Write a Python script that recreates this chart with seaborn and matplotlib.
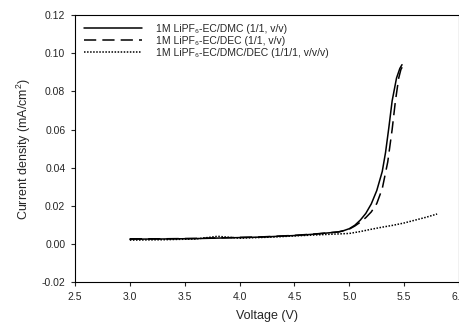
import numpy as np
import pandas as pd
import matplotlib
matplotlib.use('Agg')
import matplotlib.pyplot as plt
import seaborn as sns

# Linear sweep voltammetry
dmc_voltage = [3.0, 3.3, 3.6, 3.9, 4.2, 4.5, 4.7, 4.9, 4.95, 5.0, 5.05, 5.1, 5.15, 5.2, 5.25, 5.3, 5.33, 5.36, 5.39, 5.43, 5.46, 5.48]
dmc_current = [0.0025, 0.0026, 0.0028, 0.0032, 0.0036, 0.0044, 0.0052, 0.0063, 0.0070, 0.0080, 0.0098, 0.0125, 0.0160, 0.0210, 0.0280, 0.0380, 0.0480, 0.0610, 0.0750, 0.0870, 0.0920, 0.0940]

dec_voltage = [3.0, 3.3, 3.6, 3.9, 4.2, 4.5, 4.7, 4.9, 4.95, 5.0, 5.05, 5.1, 5.15, 5.2, 5.25, 5.3, 5.35, 5.39, 5.42, 5.45, 5.47, 5.49]
dec_current = [0.0027, 0.0027, 0.0029, 0.0033, 0.0037, 0.0045, 0.0053, 0.0063, 0.0069, 0.0078, 0.0094, 0.0114, 0.0138, 0.0168, 0.0212, 0.0290, 0.0430, 0.0600, 0.0750, 0.0870, 0.0915, 0.0935]

mix_voltage = [3.0, 3.3, 3.6, 3.8, 4.0, 4.3, 4.5, 4.8, 5.0, 5.1, 5.2, 5.3, 5.4, 5.5, 5.6, 5.7, 5.8]
mix_current = [0.0020, 0.0022, 0.0026, 0.0040, 0.0030, 0.0036, 0.0042, 0.0050, 0.0055, 0.0065, 0.0077, 0.0088, 0.0098, 0.0110, 0.0125, 0.0140, 0.0157]

labels = [
    '1M LiPF₆-EC/DMC (1/1, v/v)',
    '1M LiPF₆-EC/DEC (1/1, v/v)',
    '1M LiPF₆-EC/DMC/DEC (1/1/1, v/v/v)',
]

x_ticks = [2.5, 3.0, 3.5, 4.0, 4.5, 5.0, 5.5, 6.0]
y_ticks = [-0.02, 0.00, 0.02, 0.04, 0.06, 0.08, 0.10, 0.12]

################################################################################

sns.set_style('ticks')
plt.rcParams['font.family'] = ['Liberation Sans', 'DejaVu Sans']
plt.rcParams['mathtext.fontset'] = 'custom'
plt.rcParams['mathtext.rm'] = 'Liberation Sans'
plt.rcParams['mathtext.it'] = 'Liberation Sans:italic'

frames = []
for label, v, c in zip(labels, [dmc_voltage, dec_voltage, mix_voltage],
                       [dmc_current, dec_current, mix_current]):
    frames.append(pd.DataFrame({'voltage': v, 'current': c, 'electrolyte': label}))
df = pd.concat(frames, ignore_index = True)

fig = plt.figure(figsize = (4.6, 3.28), dpi = 100)
ax = fig.add_axes([0.163, 0.140, 0.835, 0.814])

sns.lineplot(
    data = df,
    x = 'voltage',
    y = 'current',
    hue = 'electrolyte',
    style = 'electrolyte',
    palette = ['black'] * 3,
    dashes = {labels[0]: '', labels[1]: (8, 4), labels[2]: (1, 1)},
    estimator = None,
    sort = False,
    linewidth = 1.1,
    ax = ax
)

ax.set_xlim(2.5, 6.0)
ax.set_ylim(-0.02, 0.12)
ax.set_xticks(x_ticks)
ax.set_xticklabels([f'{t:.1f}' for t in x_ticks])
ax.set_yticks(y_ticks)
ax.set_yticklabels([f'{t:.2f}' for t in y_ticks])
ax.tick_params(direction = 'out', length = 3, width = 0.8, labelsize = 7.5, pad = 4)

for spine in ax.spines.values():
    spine.set_visible(True)
    spine.set_linewidth(0.8)
    spine.set_color('black')

ax.set_xlabel('Voltage (V)', fontsize = 9, labelpad = 6)
ax.set_ylabel('Current density (mA/cm$^2$)', fontsize = 9, labelpad = 6)

leg = ax.legend(
    loc = 'upper left',
    frameon = False,
    fontsize = 7.5,
    handlelength = 5.6,
    handletextpad = 1.35,
    labelspacing = 0.2,
    borderaxespad = 0.45,
)

fig.savefig('out.png', dpi = 100)
